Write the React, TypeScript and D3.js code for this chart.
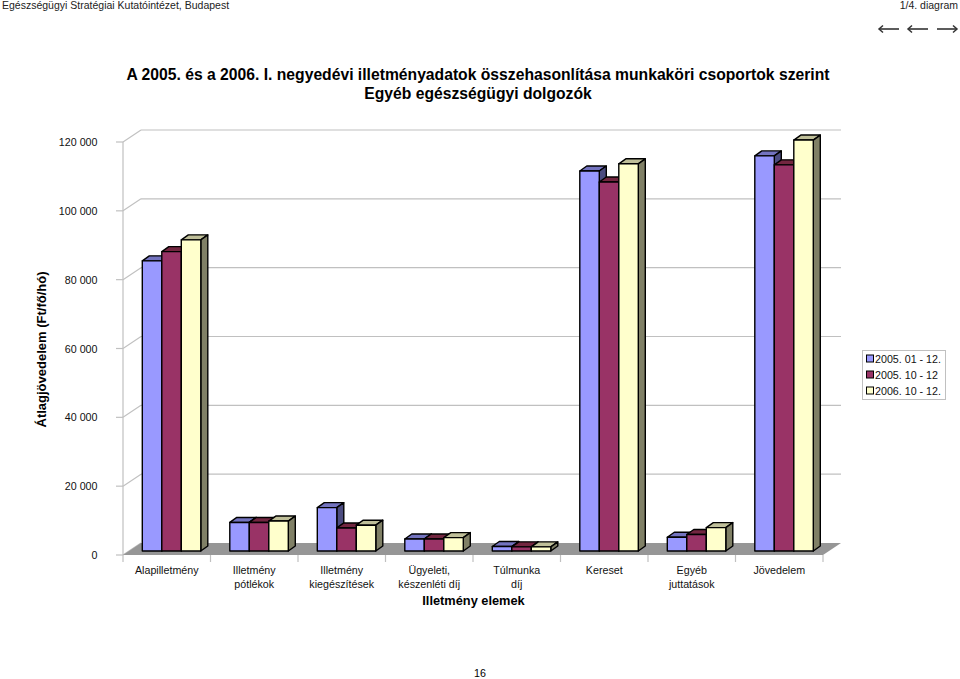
import React from 'react';
import * as d3 from 'd3';

const categories = [
  ['Alapilletmény'],
  ['Illetmény', 'pótlékok'],
  ['Illetmény', 'kiegészítések'],
  ['Ügyeleti,', 'készenléti díj'],
  ['Túlmunka', 'díj'],
  ['Kereset'],
  ['Egyéb', 'juttatások'],
  ['Jövedelem'],
];
const series2005Full = [84300, 8300, 12600, 3500, 1300, 110400, 4000, 114800];
const series2005Q = [87000, 8300, 6700, 3500, 1200, 107200, 4800, 112200];
const series2006Q = [90400, 8700, 7500, 3900, 1200, 112500, 6800, 119400];
const seriesNames = ['2005. 01 - 12.', '2005. 10 - 12', '2006. 10 - 12.'];
const ticks = [0, 20000, 40000, 60000, 80000, 100000, 120000];
const titleLines = [
  'A 2005. és a 2006. I. negyedévi illetményadatok összehasonlítása munkaköri csoportok szerint',
  'Egyéb egészségügyi dolgozók',
];

const FONT = '"Liberation Sans", Arial, sans-serif';
const colors = [
  { front: '#9999ff', top: '#7373bf', side: '#4c4c80' },
  { front: '#993366', top: '#732640', side: '#4d1a33' },
  { front: '#ffffcc', top: '#bfbf99', side: '#808066' },
];
const allSeries = [series2005Full, series2005Q, series2006Q];

const x0 = 123;
const x1 = 823;
const yZero = 555;
const yTop = 142;
const wallDx = 18;
const wallDy = -12;
const barDx = 7;
const barDy = -5;
const barInsetX = 19.3;
const barInsetY = 4;
const barW = 19.5;

function Arrow({ x, y, dir }: { x: number; y: number; dir: number }) {
  const tip = dir < 0 ? x : x + 20;
  const tail = dir < 0 ? x + 20 : x;
  return (
    <g stroke="#333" fill="none">
      <line x1={tail} y1={y} x2={tip} y2={y} strokeWidth={1.6} />
      <path d={`M${tip - dir * 4},${y - 3.5} L${tip},${y} L${tip - dir * 4},${y + 3.5}`} strokeWidth={1.5} />
    </g>
  );
}

export default function App() {
  const xBand = d3.scaleBand<number>().domain(d3.range(categories.length)).range([x0, x1]);
  const y = d3.scaleLinear().domain([0, 120000]).range([yZero, yTop]);
  const valueH = (v: number) => y(0) - y(v);
  const grid = '#c0c0c0';
  const fmt = (t: number) => (t === 0 ? '0' : d3.format(',')(t).replace(/,/g, ' '));

  return (
    <svg width={960} height={679} style={{ position: 'absolute', left: 0, top: 0, background: '#fff' }} fontFamily={FONT}>
      <text x={2} y={9} fontSize={10.5} fill="#222">Egészségügyi Stratégiai Kutatóintézet, Budapest</text>
      <text x={958} y={9} fontSize={10.5} fill="#222" textAnchor="end">1/4. diagram</text>
      <Arrow x={879} y={29} dir={-1} />
      <Arrow x={908} y={29} dir={-1} />
      <Arrow x={937} y={29} dir={1} />

      <text x={478} y={80} fontSize={15.7} fontWeight="bold" textAnchor="middle" fill="#000">{titleLines[0]}</text>
      <text x={478} y={99} fontSize={15.7} fontWeight="bold" textAnchor="middle" fill="#000">{titleLines[1]}</text>

      {/* walls and gridlines */}
      <g stroke={grid} strokeWidth={1.2} fill="none">
        <line x1={x0} y1={yZero} x2={x0} y2={yTop} />
        {ticks.map(t => (
          <g key={t}>
            <line x1={x0 - 7} y1={y(t)} x2={x0} y2={y(t)} />
            <line x1={x0} y1={y(t)} x2={x0 + wallDx} y2={y(t) + wallDy} />
            {t > 0 && <line x1={x0 + wallDx} y1={y(t) + wallDy} x2={x1 + wallDx} y2={y(t) + wallDy} />}
          </g>
        ))}
      </g>
      <path
        d={`M${x0},${yZero} L${x0 + wallDx},${yZero + wallDy} L${x1 + wallDx},${yZero + wallDy} L${x1},${yZero} Z`}
        fill="#969696"
      />
      <g stroke={grid} strokeWidth={1.2}>
        {d3.range(categories.length + 1).map(i => {
          const xt = x0 + i * xBand.step();
          return <line key={i} x1={xt} y1={yZero} x2={xt} y2={yZero + 7} />;
        })}
      </g>

      {ticks.map(t => (
        <text key={t} x={97.5} y={y(t) + 4} fontSize={10.7} textAnchor="end" fill="#111">{fmt(t)}</text>
      ))}

      <text
        transform="translate(46,349.5) rotate(-90)"
        fontSize={13}
        fontWeight="bold"
        textAnchor="middle"
        fill="#000"
      >Átlagjövedelem (Ft/fő/hó)</text>

      {/* bars */}
      {categories.map((_, i) => (
        <g key={i} stroke="#000" strokeWidth={1.4} strokeLinejoin="round">
          {allSeries.map((s, k) => {
            const h = valueH(s[i]);
            const l = (xBand(i) as number) + barInsetX + k * barW;
            const r = l + barW;
            const b = yZero - barInsetY;
            const t = b - h;
            const c = colors[k];
            return (
              <g key={k}>
                <path d={`M${l},${t} L${l + barDx},${t + barDy} L${r + barDx},${t + barDy} L${r},${t} Z`} fill={c.top} />
                <path d={`M${r},${t} L${r + barDx},${t + barDy} L${r + barDx},${b + barDy} L${r},${b} Z`} fill={c.side} />
                <rect x={l} y={t} width={barW} height={h} fill={c.front} />
              </g>
            );
          })}
        </g>
      ))}

      {categories.map((lines, i) => (
        <text key={i} fontSize={10.7} textAnchor="middle" fill="#111">
          {lines.map((ln, j) => (
            <tspan key={j} x={(xBand(i) as number) + xBand.bandwidth() / 2} y={574 + j * 14}>{ln}</tspan>
          ))}
        </text>
      ))}

      <text x={473.5} y={605} fontSize={12.8} fontWeight="bold" textAnchor="middle" fill="#000">Illetmény elemek</text>

      {/* legend */}
      <rect x={862.5} y={350.5} width={83} height={49} fill="#fff" stroke="#c0c0c0" />
      {seriesNames.map((n, k) => {
        const ly = 358.5 + k * 16;
        return (
          <g key={n}>
            <rect x={866.5} y={ly - 3.5} width={7} height={7} fill={colors[k].front} stroke="#000" strokeWidth={1} />
            <text x={875} y={ly + 4} fontSize={10.7} fill="#111">{n}</text>
          </g>
        );
      })}

      <text x={480} y={676.5} fontSize={10.7} textAnchor="middle" fill="#000">16</text>
    </svg>
  );
}
